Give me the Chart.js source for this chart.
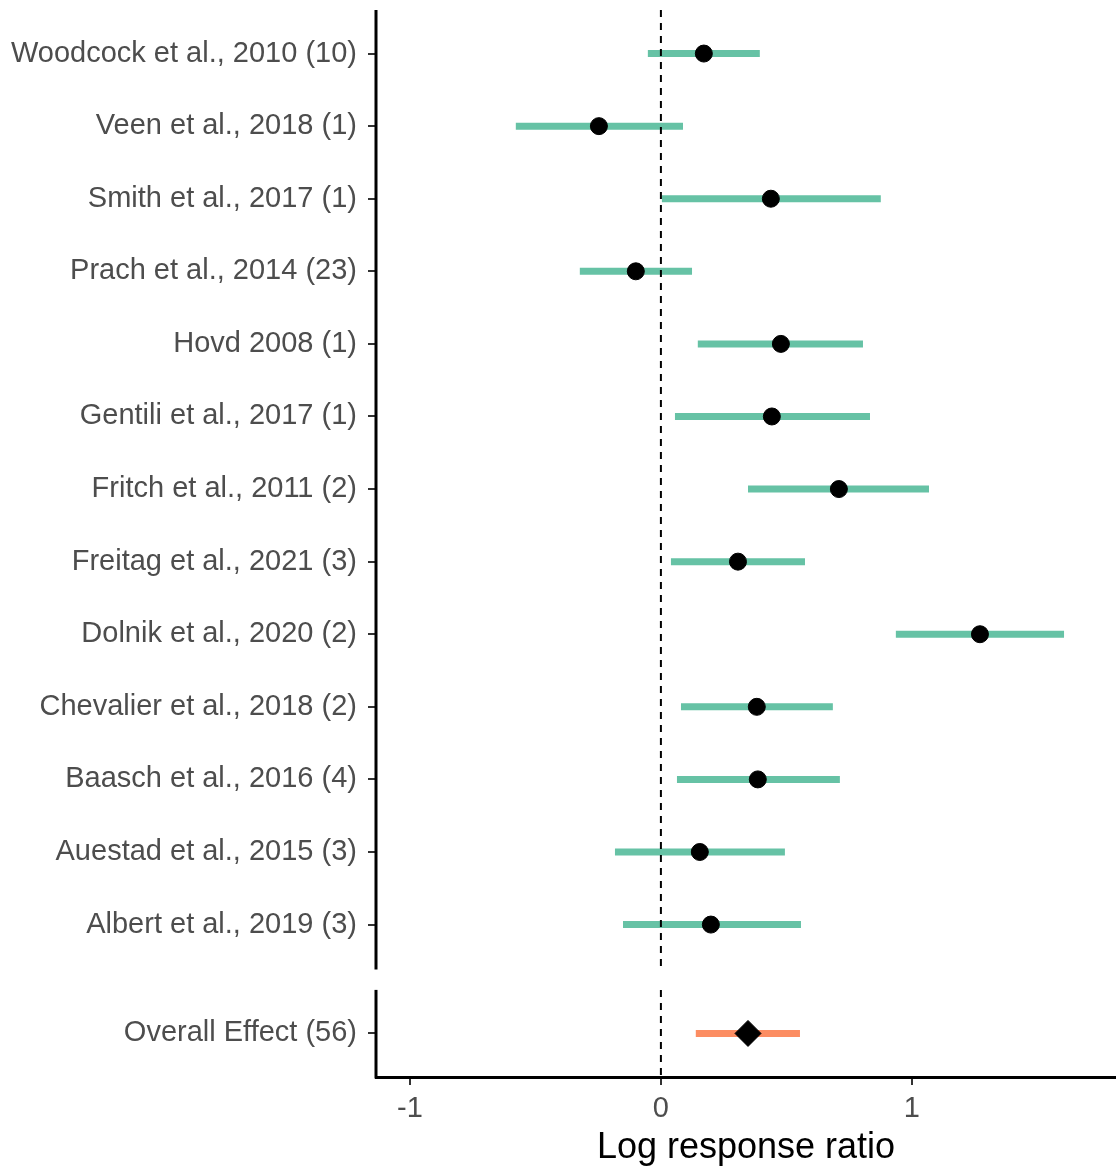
<!DOCTYPE html>
<html>
<head>
<meta charset="utf-8">
<script src="https://cdn.jsdelivr.net/npm/chart.js@4/dist/chart.umd.min.js"></script>
<style>
  html, body { margin: 0; padding: 0; background: #fff; }
  #wrap { width: 1116px; height: 1169px; }
</style>
</head>
<body>
<div id="wrap"><canvas id="forest" width="1116" height="1169"></canvas></div>
<script>
// study labels, top to bottom
const studies = [
    "Woodcock et al., 2010 (10)",
    "Veen et al., 2018 (1)",
    "Smith et al., 2017 (1)",
    "Prach et al., 2014 (23)",
    "Hovd 2008 (1)",
    "Gentili et al., 2017 (1)",
    "Fritch et al., 2011 (2)",
    "Freitag et al., 2021 (3)",
    "Dolnik et al., 2020 (2)",
    "Chevalier et al., 2018 (2)",
    "Baasch et al., 2016 (4)",
    "Auestad et al., 2015 (3)",
    "Albert et al., 2019 (3)"
];
const estimates = [0.171, -0.247, 0.438, -0.100, 0.478, 0.442, 0.709, 0.307, 1.271, 0.382, 0.386, 0.155, 0.199];
const ciLow     = [-0.052, -0.578, 0.004, -0.323, 0.147, 0.056, 0.347, 0.040, 0.936, 0.080, 0.064, -0.183, -0.151];
const ciHigh    = [0.394, 0.088, 0.876, 0.124, 0.805, 0.833, 1.068, 0.574, 1.606, 0.685, 0.713, 0.494, 0.558];

const overallLabel = "Overall Effect (56)";
const overallEst = [0.347];
const overallLow = [0.139];
const overallHigh = [0.554];

const xTicks = [-1, 0, 1];

// row positions: top panel rows 1..13, bottom panel row sits after a small gap
const topPanel = [0.4, 13.6];
const botPanel = [13.9, 15.1];
const overallRow = 14.5;

let rows = studies.map((s, i) => i + 1);
let labelAt = {};
rows.forEach((r, i) => { labelAt[r] = studies[i]; });
labelAt[overallRow] = overallLabel;

// error bars as one line dataset broken with gaps
let barData = [];
rows.forEach((r, i) => {
    barData.push({x: ciLow[i], y: r});
    barData.push({x: ciHigh[i], y: r});
    barData.push({x: null, y: null});
});
let pointData = rows.map((r, i) => ({x: estimates[i], y: r}));

let zeroLine = [
    {x: 0, y: topPanel[0]}, {x: 0, y: topPanel[1]}, {x: null, y: null},
    {x: 0, y: botPanel[0]}, {x: 0, y: botPanel[1]}
];

// broken y axis line (one segment per panel)
const panelAxis = {
    id: 'panelAxis',
    afterDraw(chart) {
        let ctx = chart.ctx;
        let y = chart.scales.y;
        let left = chart.chartArea.left;
        ctx.save();
        ctx.strokeStyle = '#000';
        ctx.lineWidth = 3;
        [topPanel, botPanel].forEach(function(p){
            ctx.beginPath();
            ctx.moveTo(left, y.getPixelForValue(p[0]));
            ctx.lineTo(left, y.getPixelForValue(p[1]) + 1.5);
            ctx.stroke();
        });
        ctx.restore();
    }
};

const fontFam = "'Liberation Sans', Arial, sans-serif";
const tickFont = {family: fontFam, size: 29};

new Chart(document.getElementById('forest'), {
    type: 'scatter',
    data: {
        datasets: [
            {
                data: pointData,
                backgroundColor: '#000',
                borderColor: '#000',
                pointRadius: 8.5,
                order: 0
            },
            {
                data: overallEst.map(v => ({x: v, y: overallRow})),
                backgroundColor: '#000',
                borderColor: '#000',
                pointStyle: 'rectRot',
                pointRadius: 13,
                order: 0
            },
            {
                data: zeroLine,
                showLine: true,
                spanGaps: false,
                borderColor: '#000',
                borderWidth: 2,
                borderDash: [7, 6],
                pointRadius: 0,
                order: 1
            },
            {
                data: barData,
                showLine: true,
                spanGaps: false,
                borderColor: '#66c2a5',
                borderWidth: 7,
                borderCapStyle: 'butt',
                pointRadius: 0,
                order: 2
            },
            {
                data: [{x: overallLow[0], y: overallRow}, {x: overallHigh[0], y: overallRow}],
                showLine: true,
                borderColor: '#fc8d62',
                borderWidth: 7,
                borderCapStyle: 'butt',
                pointRadius: 0,
                order: 2
            }
        ]
    },
    options: {
        responsive: false,
        animation: false,
        layout: {autoPadding: false, padding: {top: 10, right: 0, left: 0, bottom: 0}},
        plugins: {
            legend: {display: false},
            tooltip: {enabled: false}
        },
        scales: {
            x: {
                type: 'linear',
                min: -1.135,
                max: 1.813,
                afterBuildTicks: function(scale){
                    scale.ticks = xTicks.map(v => ({value: v}));
                },
                afterFit: function(scale){
                    scale.height = 92;
                    scale.paddingLeft = 0;
                    scale.paddingRight = 0;
                },
                border: {display: true, color: '#000', width: 3},
                grid: {drawOnChartArea: false, drawTicks: true, tickLength: 8, color: '#333', lineWidth: 2},
                ticks: {
                    font: tickFont,
                    color: '#4d4d4d',
                    padding: 7,
                    callback: v => String(v)
                },
                title: {
                    display: true,
                    text: 'Log response ratio',
                    color: '#000',
                    font: {family: fontFam, size: 36},
                    padding: {top: 0, bottom: -1}
                }
            },
            y: {
                type: 'linear',
                reverse: true,
                min: topPanel[0],
                max: botPanel[1],
                afterBuildTicks: function(scale){
                    scale.ticks = rows.concat([overallRow]).map(v => ({value: v}));
                },
                afterFit: function(scale){
                    scale.width = 376;
                    scale.paddingTop = 0;
                    scale.paddingBottom = 0;
                },
                border: {display: false},
                grid: {drawOnChartArea: false, drawTicks: true, tickLength: 8, color: '#333', lineWidth: 2},
                ticks: {
                    autoSkip: false,
                    font: tickFont,
                    color: '#4d4d4d',
                    padding: 11,
                    callback: v => labelAt[v] || ''
                }
            }
        }
    },
    plugins: [panelAxis]
});
</script>
</body>
</html>
